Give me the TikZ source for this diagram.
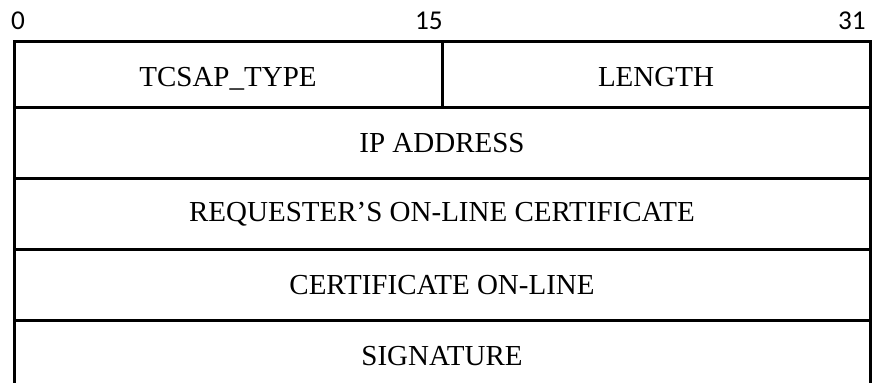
\documentclass[tikz,border=0pt]{standalone}
\usepackage{fontspec}
\setmainfont{Liberation Serif}
\newfontfamily\bitfont{Carlito}
\usetikzlibrary{positioning}

\begin{document}
\begin{tikzpicture}[x=0.5pt, y=-0.5pt,
  field/.style={draw, line width=1.5pt, outer sep=0pt, inner sep=0pt, minimum height=35.5pt, font=\fontsize{14.5}{17}\selectfont},
  half/.style={field, minimum width=214pt, minimum height=33pt, text height=15pt, text depth=2.5pt},
  full/.style={field, minimum width=428pt},
  bit/.style={font=\bitfont\fontsize{13.6}{16}\selectfont, inner sep=0pt}
]
\useasboundingbox (0,0) rectangle (877,383);
% bit positions
\node[bit, anchor=base] (b0) at (18,29.5) {0};
\node[bit, anchor=base east] (b15) at (443,29.5) {15};
\node[bit, anchor=base east] (b31) at (866,29.5) {31};
% header fields
\node[half] (type) at (228,74.4) {TCSAP\_TYPE};
\node[half, right=0pt of type] (length) {LENGTH};
\node[full, below=0pt of type.south west, anchor=north west] (ipaddr) {IP ADDRESS};
\node[full, below=0pt of ipaddr] (reqcert) {REQUESTER’S ON-LINE CERTIFICATE};
\node[full, below=0pt of reqcert] (certonline) {CERTIFICATE ON-LINE};
\node[full, below=0pt of certonline] (sig) {SIGNATURE};
\end{tikzpicture}
\end{document}
